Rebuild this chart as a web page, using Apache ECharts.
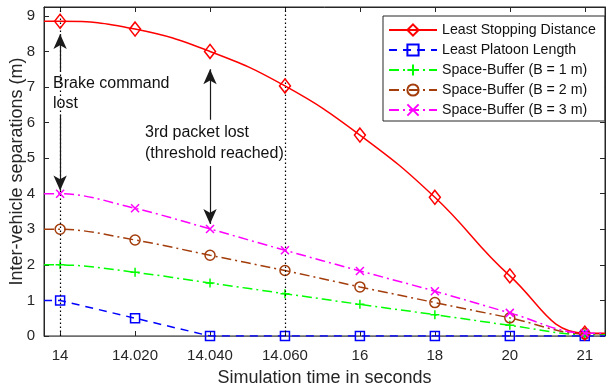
<!DOCTYPE html>
<html>
<head>
<meta charset="utf-8">
<script src="https://cdn.jsdelivr.net/npm/echarts@6/dist/echarts.min.js"></script>
<style>
  html, body { margin: 0; padding: 0; background: #fff; }
  #chart { width: 606px; height: 387px; }
</style>
</head>
<body>
<div id="chart"></div>
<script>
// Simulation time labels (evenly spaced positions 0..7)
const timeLabels = ['14', '14.020', '14.040', '14.060', '16', '18', '20', '21'];
const yTickValues = [0, 1, 2, 3, 4, 5, 6, 7, 8, 9];

// Inter-vehicle separations (m) at each time step
const leastStopping = [8.85, 8.63, 8.00, 7.03, 5.65, 3.90, 1.69, 0.08];
const leastPlatoon  = [1.00, 0.50, 0.00, 0.00, 0.00, 0.00, 0.00, 0.00];
const bufferB1      = [2.00, 1.79, 1.49, 1.19, 0.89, 0.60, 0.30, 0.04];
const bufferB2      = [3.00, 2.70, 2.27, 1.84, 1.38, 0.94, 0.51, 0.06];
const bufferB3      = [4.00, 3.59, 3.01, 2.41, 1.83, 1.26, 0.65, 0.08];

const X_MIN = -0.215, X_MAX = 7.27, Y_MAX = 9.25;
const FONT = '"Liberation Sans", Arial, Helvetica, sans-serif';
const AXIS_COLOR = '#262626';

// Each curve runs flat from the left axis edge to the first sample and
// from the last sample to the right edge; markers only at samples.
function curve(values) {
  const pts = values.map((v, i) => [i, v]);
  return [
    { value: [X_MIN, values[0]], symbol: 'none' },
    ...pts,
    { value: [X_MAX, values[values.length - 1]], symbol: 'none' }
  ];
}

const plusPath = 'path://M5 0L5 10M0 5L10 5';
const crossPath = 'path://M0 0L10 10M10 0L0 10';

function lineSeries(name, values, color, dash, symbol, size, smooth, z) {
  return {
    name, type: 'line', data: curve(values), smooth, z,
    symbol, symbolSize: size, symbolKeepAspect: true,
    showAllSymbol: true,
    lineStyle: { color, width: 1.5, type: dash },
    itemStyle: { color: 'rgba(255,255,255,0)', borderColor: color, borderWidth: 1.5 },
    emphasis: { disabled: true },
    animation: false
  };
}

const arrowStyle = { color: '#1a1a1a', width: 1.2, type: 'solid' };
function arrow(x, fromY, toY) {
  return [{ coord: [x, fromY] }, { coord: [x, toY] }];
}

const series = [
  lineSeries('Least Stopping Distance', leastStopping, '#ff0000', 'solid', 'diamond', [11, 14], 0.45, 5),
  lineSeries('Least Platoon Length', leastPlatoon, '#0000ff', [8, 6], 'rect', 9, false, 4),
  lineSeries('Space-Buffer (B = 1 m)', bufferB1, '#00ff00', [10, 4, 2, 4], plusPath, 9, 0.35, 3),
  lineSeries('Space-Buffer (B = 2 m)', bufferB2, '#a33d0c', [10, 4, 2, 4], 'circle', 10, 0.35, 3),
  lineSeries('Space-Buffer (B = 3 m)', bufferB3, '#ff00ff', [10, 4, 2, 4], crossPath, 8, 0.35, 6)
];

// Dotted event markers at 14 and 14.060 s
series[0].markLine = {
  silent: true, symbol: 'none', animation: false,
  label: { show: false },
  lineStyle: { color: '#000', width: 1.2, type: [1.5, 2.5] },
  data: [{ xAxis: 0 }, { xAxis: 3 }]
};

// Annotation arrows
series[1].markLine = {
  silent: true, animation: false,
  symbol: ['none', 'arrow'], symbolSize: [10, 15],
  label: { show: false },
  lineStyle: arrowStyle,
  data: [
    arrow(0, 7.44, 8.49),
    arrow(0, 6.22, 4.09),
    arrow(2, 6.08, 7.50),
    arrow(2, 4.78, 3.15)
  ]
};

const tickPositions = timeLabels.map((_, i) => i);

const option = {
  backgroundColor: '#ffffff',
  animation: false,
  textStyle: { fontFamily: FONT },
  grid: {
    left: 44, right: 1, top: 7, bottom: 51,
    containLabel: false, outerBoundsMode: 'none',
    show: true, borderColor: AXIS_COLOR, borderWidth: 1, backgroundColor: '#fff'
  },
  legend: {
    orient: 'vertical', left: 383, top: 16,
    padding: [7, 9, 4, 5],
    itemWidth: 48, itemHeight: 14, itemGap: 6,
    backgroundColor: '#fff', borderColor: AXIS_COLOR, borderWidth: 1,
    textStyle: { fontFamily: FONT, fontSize: 14.2, color: '#111' },
    data: series.map(s => s.name)
  },
  xAxis: [{
    type: 'value', min: X_MIN, max: X_MAX, position: 'bottom',
    name: 'Simulation time in seconds', nameLocation: 'middle', nameGap: 33,
    nameMoveOverlap: false,
    nameTextStyle: { fontFamily: FONT, fontSize: 18, color: AXIS_COLOR },
    axisLine: { show: true, onZero: false, lineStyle: { color: '#6f6f6f', width: 1 } },
    axisTick: { show: true, inside: true, length: 5, customValues: tickPositions, lineStyle: { color: AXIS_COLOR } },
    axisLabel: {
      customValues: tickPositions,
      formatter: v => timeLabels[Math.round(v)],
      fontFamily: FONT, fontSize: 15, color: AXIS_COLOR, margin: 12
    },
    splitLine: { show: false }
  }, {
    type: 'value', min: X_MIN, max: X_MAX, position: 'top',
    axisLine: { show: true, onZero: false, lineStyle: { color: AXIS_COLOR } },
    axisTick: { show: true, inside: true, length: 5, customValues: tickPositions, lineStyle: { color: AXIS_COLOR } },
    axisLabel: { show: false },
    splitLine: { show: false }
  }],
  yAxis: [{
    type: 'value', min: 0, max: Y_MAX, position: 'left',
    name: 'Inter-vehicle separations (m)', nameLocation: 'middle', nameGap: 18,
    nameMoveOverlap: false,
    nameTextStyle: { fontFamily: FONT, fontSize: 18, color: AXIS_COLOR },
    axisLine: { show: true, onZero: false, lineStyle: { color: AXIS_COLOR } },
    axisTick: { show: true, inside: true, length: 5, customValues: yTickValues, lineStyle: { color: AXIS_COLOR } },
    axisLabel: { customValues: yTickValues, fontFamily: FONT, fontSize: 15, color: AXIS_COLOR, margin: 9 },
    splitLine: { show: false }
  }, {
    type: 'value', min: 0, max: Y_MAX, position: 'right',
    axisLine: { show: true, onZero: false, lineStyle: { color: AXIS_COLOR } },
    axisTick: { show: true, inside: true, length: 5, customValues: yTickValues, lineStyle: { color: AXIS_COLOR } },
    axisLabel: { show: false },
    splitLine: { show: false }
  }],
  series,
  graphic: [
    { type: 'text', left: 53, top: 73, z: 100,
      style: { text: 'Brake command\nlost', font: '16px ' + FONT, fill: '#111', lineHeight: 20.5 } },
    { type: 'text', left: 145, top: 122, z: 100,
      style: { text: '3rd packet lost\n(threshold reached)', font: '16px ' + FONT, fill: '#111', lineHeight: 21 } }
  ]
};

const chart = echarts.init(document.getElementById('chart'), null, { renderer: 'canvas' });
chart.setOption(option);
</script>
</body>
</html>
